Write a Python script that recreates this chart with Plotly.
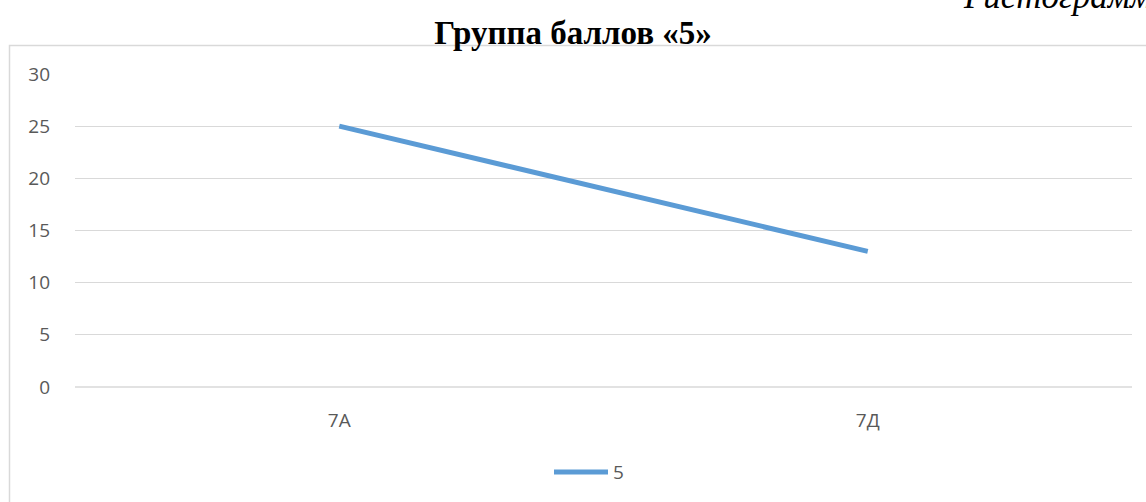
import plotly.graph_objects as go

# ── Données ───────────────────────────────────────────────
CLASSES = ['7А', '7Д']
SERIE_5 = [25, 13]
SERIE_NOM = '5'
Y_TICKS = [0, 5, 10, 15, 20, 25, 30]

W, H = 1146, 502
L, R, T, B = 75, 14, 74, 115
GRID = '#d9d9d9'
TXT = '#595959'
BLUE = '#5b9bd5'


def px_x(x):
    return (x - L) / (W - L - R)


def px_y(y):
    return (H - B - y) / (H - T - B)


fig = go.Figure(go.Scatter(
    x=CLASSES, y=SERIE_5, mode='lines', name=SERIE_NOM,
    line=dict(color=BLUE, width=5), showlegend=False,
))

fig.update_layout(
    width=W, height=H, margin=dict(l=L, r=R, t=T, b=B),
    paper_bgcolor='white', plot_bgcolor='white',
    font=dict(family='Open Sans, sans-serif', size=19, color=TXT),
    title=dict(text='<b>Группа баллов «5»</b>', x=0.5, xanchor='center',
               y=1 - 32 / H, yanchor='middle', yref='container',
               font=dict(family='Liberation Serif, serif', size=33, color='black')),
    xaxis=dict(range=[-0.5, 1.5], showgrid=False, zeroline=False, showline=False,
               ticks='', ticklabelstandoff=20),
    yaxis=dict(range=[0, 30], tickvals=Y_TICKS, showgrid=True, gridcolor=GRID,
               gridwidth=1, zeroline=False, showline=False, ticks='',
               ticklabelstandoff=24),
    shapes=[
        dict(type='line', xref='paper', yref='paper', x0=0, x1=1, y0=0, y1=0,
             line=dict(color=GRID, width=1.3)),
        dict(type='rect', xref='paper', yref='paper', x0=px_x(9.5), x1=px_x(1160),
             y0=px_y(520), y1=px_y(45.5), line=dict(color=GRID, width=1.5),
             layer='below'),
        # légende : trait de la série
        dict(type='line', xref='paper', yref='paper', x0=px_x(554), x1=px_x(608),
             y0=px_y(472), y1=px_y(472), line=dict(color=BLUE, width=5)),
    ],
    annotations=[
        dict(text=SERIE_NOM, xref='paper', yref='paper', x=px_x(611), y=px_y(472),
             xanchor='left', yanchor='middle', showarrow=False,
             font=dict(size=19, color=TXT)),
        dict(text='<i>Гистограмма</i>', xref='paper', yref='paper',
             x=px_x(961), y=px_y(-4), xanchor='left', yanchor='middle',
             showarrow=False,
             font=dict(family='Liberation Serif, serif', size=35, color='black')),
    ],
)

fig.write_html('out.html', config={'displayModeBar': False},
               post_script="document.body.style.margin='0';")
